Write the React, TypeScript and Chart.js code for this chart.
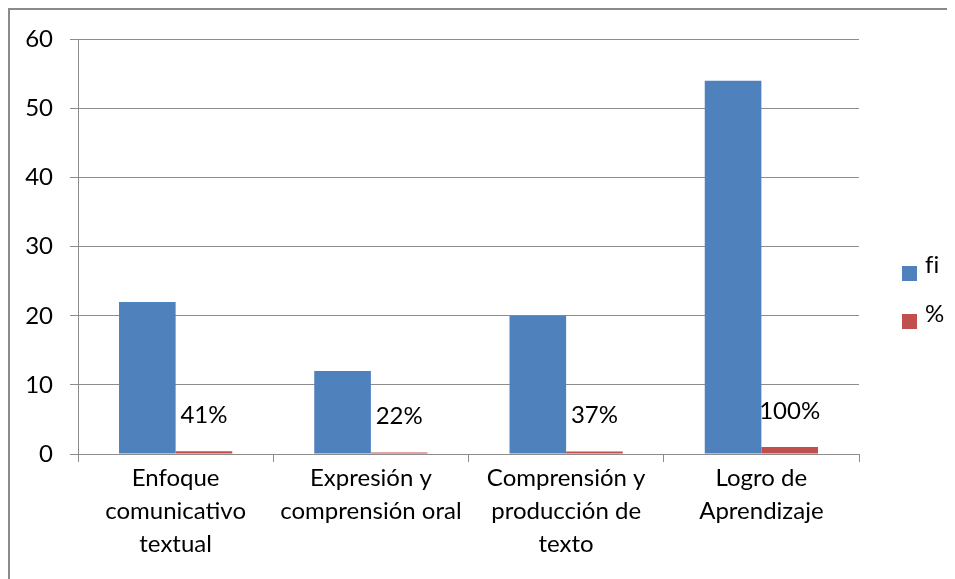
import React, { useEffect, useRef } from "react";
import { Chart, registerables } from "chart.js";

Chart.register(...registerables);

const categories: string[][] = [
  ["Enfoque", "comunicativo", "textual"],
  ["Expresión y", "comprensión oral"],
  ["Comprensión y", "producción de", "texto"],
  ["Logro de", "Aprendizaje"],
];
const fiValues = [22, 12, 20, 54];
const pctValues = [0.41, 0.22, 0.37, 1.0];
const pctLabels = ["41%", "22%", "37%", "100%"];
const seriesNames = ["fi", "%"];
const yTicks = { min: 0, max: 60, step: 10 };

const FONT = "Lato, 'Open Sans', sans-serif";
const FONT_SIZE = 24;
const BLUE = "#4F81BD";
const RED = "#C0504D";
const GRID = "#8c8c8c";

function drawNoLig(ctx: CanvasRenderingContext2D, text: string, x: number, y: number) {
  let cx = x;
  for (const ch of text) {
    ctx.fillText(ch, cx, y);
    cx += ctx.measureText(ch).width;
  }
}

const extrasPlugin = {
  id: "extras",
  afterDraw(chart: any) {
    const ctx = chart.ctx;
    ctx.save();
    // outer frame (only left and top visible)
    ctx.fillStyle = "#8a8a8a";
    ctx.fillRect(0, 0, 2, chart.height);
    ctx.fillRect(0, 0, chart.width, 2);
    // data labels for % series
    const meta = chart.getDatasetMeta(1);
    ctx.fillStyle = "#000";
    ctx.font = `${FONT_SIZE}px ${FONT}`;
    ctx.textAlign = "center";
    ctx.textBaseline = "alphabetic";
    meta.data.forEach((bar: any, i: number) => {
      ctx.fillText(pctLabels[i], bar.x, bar.y - 28);
    });
    // legend
    const colors = [BLUE, RED];
    ctx.textAlign = "left";
    seriesNames.forEach((name, i) => {
      const top = 258 + i * 48;
      ctx.fillStyle = colors[i];
      ctx.fillRect(894, top, 15, 15);
      ctx.fillStyle = "#000";
      drawNoLig(ctx, name, 917, top + 7 + i * 1);
    });
    ctx.restore();
  },
};

export default function App() {
  const ref = useRef<HTMLCanvasElement | null>(null);
  useEffect(() => {
    if (!ref.current) return;
    const chart = new Chart(ref.current, {
      type: "bar",
      data: {
        labels: categories as any,
        datasets: [
          { label: seriesNames[0], data: fiValues, backgroundColor: BLUE, categoryPercentage: 0.58, barPercentage: 1 },
          { label: seriesNames[1], data: pctValues, backgroundColor: RED, categoryPercentage: 0.58, barPercentage: 1 },
        ],
      },
      options: {
        animation: false,
        responsive: false,
        maintainAspectRatio: false,
        layout: { padding: { top: 31, right: 96, left: 0, bottom: 0 } },
        plugins: {
          legend: { display: false },
          tooltip: { enabled: false },
        },
        scales: {
          x: {
            offset: true,
            grid: {
              offset: true,
              drawOnChartArea: false,
              drawTicks: true,
              tickLength: 8,
              color: GRID,
            },
            border: { display: true, color: GRID },
            ticks: {
              color: "#000",
              font: { family: FONT, size: FONT_SIZE, lineHeight: 1.375 },
              padding: 0,
              maxRotation: 0,
              autoSkip: false,
            },
            afterFit(scale: any) {
              scale.height = 125;
            },
          },
          y: {
            min: yTicks.min,
            max: yTicks.max,
            grid: { color: GRID, tickLength: 8 },
            border: { display: true, color: GRID },
            ticks: {
              stepSize: yTicks.step,
              color: "#000",
              font: { family: FONT, size: FONT_SIZE },
              padding: 17,
            },
            afterFit(scale: any) {
              scale.width = 70;
            },
          },
        },
      },
      plugins: [extrasPlugin],
    });
    return () => chart.destroy();
  }, []);
  return (
    <div style={{ width: 947, height: 571 }}>
      <canvas ref={ref} width={947} height={571} style={{ display: "block" }} />
    </div>
  );
}
